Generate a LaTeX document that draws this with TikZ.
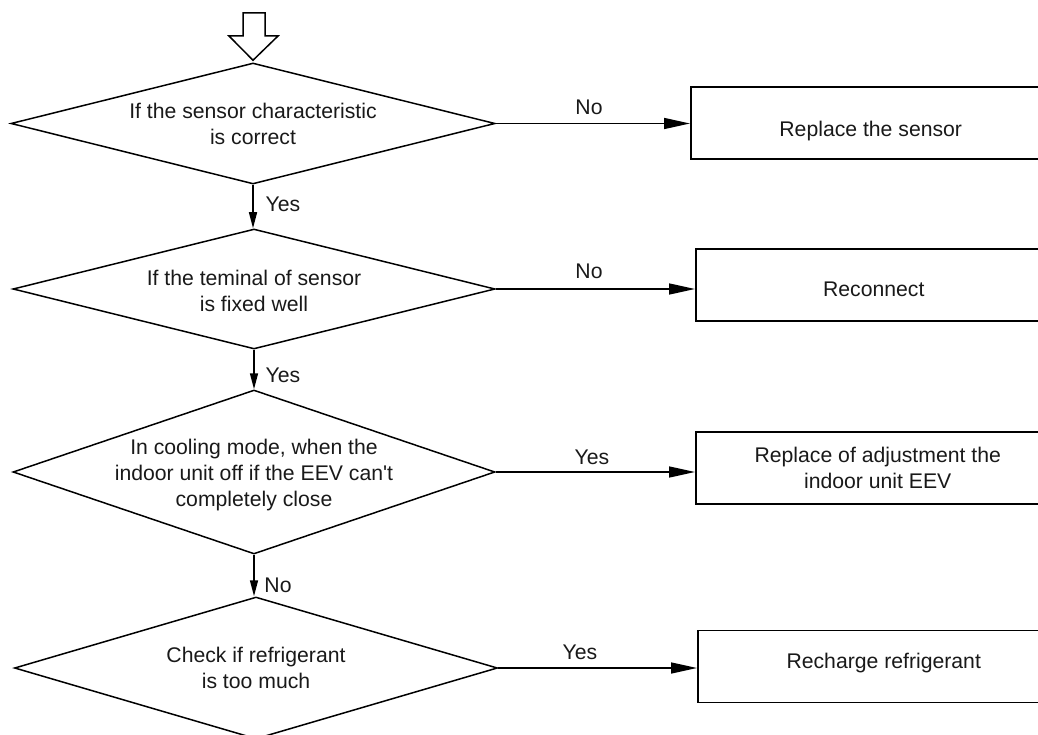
\documentclass[tikz,border=0pt]{standalone}
\usepackage{fontspec}
\setmainfont{Liberation Sans}
\usetikzlibrary{shapes.geometric,arrows.meta}
\begin{document}
\begin{tikzpicture}[x=1pt,y=-1pt,
  every node/.style={font=\fontsize{21.2}{26}\selectfont, text=black!90},
  dec/.style={shape=diamond, draw, line width=1.5pt, inner sep=0pt},
  txt/.style={align=center, inner sep=0pt},
  act/.style={draw, line width=1.5pt, inner sep=0pt, minimum height=72pt, anchor=west},
  hflow/.style={line width=1.5pt, -{Triangle[length=26pt,width=11pt]}},
  vflow/.style={line width=1.5pt, -{Triangle[length=16pt,width=8pt]}},
  lab/.style={inner sep=0pt}
]
\path[use as bounding box] (0,0) rectangle (1038,735);
\clip (0,0) rectangle (1038,735);

% decisions
\node[dec, minimum width=484pt, minimum height=121pt] (d1) at (253,123.5) {};
\node[txt] (t1) at (d1.center) {If the sensor characteristic\\is correct};
\node[dec, minimum width=482pt, minimum height=120pt] (d2) at (254,289) {};
\node[txt] (t2) at ([yshift=-2pt]d2.center) {If the teminal of sensor\\is fixed well};
\node[dec, minimum width=482pt, minimum height=164pt] (d3) at (254,472) {};
\node[txt] (t3) at ([yshift=-3pt]d3.center) {In cooling mode, when the\\indoor unit off if the EEV can\textquotesingle t\\completely close};
\node[dec, minimum width=483pt, minimum height=142pt] (d4) at (256,668) {};
\node[txt] (t4) at (d4.center) {Check if refrigerant\\is too much};

% actions
\node[act, minimum width=360pt] (b1) at (690,123) {};
\node[txt] (r1) at ([yshift=-8pt]b1.center) {Replace the sensor};
\node[act, minimum width=356pt] (b2) at (695,285) {};
\node[txt] (r2) at ([yshift=-4pt]b2.center) {Reconnect};
\node[act, minimum width=364pt] (b3) at (695,468) {};
\node[txt] (r3) at (b3.center) {Replace of adjustment the\\indoor unit EEV};
\node[act, minimum width=372pt] (b4) at (697,666.5) {};
\node[txt] (r4) at ([yshift=3pt]b4.center) {Recharge refrigerant};

% entry hollow arrow
\coordinate (tip) at ([yshift=2pt]d1.north);
\draw[line width=1.5pt, line join=miter] (243,13) -- (265,13) -- (265,36) -- (278,36) -- (tip) -- (229,36) -- (243,36) -- cycle;

% horizontal connectors
\draw[hflow] (d1.east) -- (d1.east -| b1.west);
\draw[hflow] (d2.east) -- (d2.east -| b2.west);
\draw[hflow] (d3.east) -- (d3.east -| b3.west);
\draw[hflow] (d4.east) -- (d4.east -| b4.west);

% vertical connectors
\draw[vflow] (d1.south) -- (d1.south |- d2.north);
\draw[vflow] (d2.south) -- (d2.south |- d3.north);
\draw[vflow] (d3.south) -- (d3.south |- d4.north);

% labels
\node[lab] (l1) at (589,107) {No};
\node[lab] (l2) at (589,271) {No};
\node[lab] (l3) at (592,457) {Yes};
\node[lab] (l4) at (580,652) {Yes};
\node[lab] (l5) at (283,204) {Yes};
\node[lab] (l6) at (283,375) {Yes};
\node[lab] (l7) at (278,585) {No};
\end{tikzpicture}
\end{document}
